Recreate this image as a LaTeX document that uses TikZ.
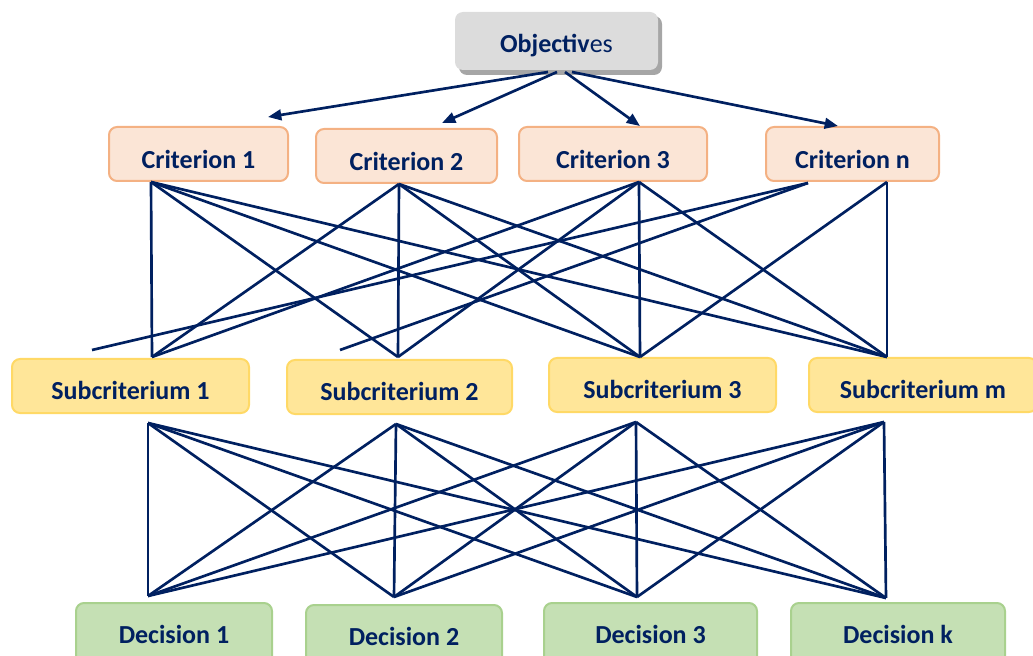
\documentclass[tikz,border=0pt]{standalone}
\usepackage{fontspec}
\setmainfont{Carlito}
\usetikzlibrary{arrows.meta}
\definecolor{navy}{HTML}{002060}
\definecolor{critfill}{HTML}{FBE5D6}
\definecolor{critdraw}{HTML}{F4B183}
\definecolor{subfill}{HTML}{FFE699}
\definecolor{subdraw}{HTML}{FFD966}
\definecolor{decfill}{HTML}{C5E0B4}
\definecolor{decdraw}{HTML}{A9D18E}
\definecolor{objfill}{HTML}{DCDCDC}
\definecolor{objshadow}{HTML}{A6A6A6}
\tikzset{
  box/.style={rounded corners=6pt, line width=1.5pt, inner sep=0pt,
    font=\fontsize{19.5pt}{22pt}\selectfont\bfseries, text=navy, text depth=0pt},
  critbox/.style={box, fill=critfill, draw=critdraw, minimum height=40.5pt, text height=22.4pt},
  subbox/.style={box, fill=subfill, draw=subdraw, minimum height=40.5pt, text height=20pt},
  decbox/.style={box, fill=decfill, draw=decdraw, minimum height=49.5pt, text height=11pt},
  objbox/.style={box, fill=objfill, draw=none, minimum height=43.5pt, text height=18pt},
  link/.style={draw=navy, line width=2pt},
  arr/.style={link, -{Triangle[length=10pt,width=8pt]}},
}
\begin{document}
\begin{tikzpicture}[x=0.75pt,y=-0.75pt]
\useasboundingbox (0,0) rectangle (1033,656);
\clip (0,0) rectangle (1033,656);
% Objectives
\fill[objshadow, rounded corners=6pt] (459,16) rectangle (662,75);
\node[objbox, minimum width=152.25pt] (obj) at (556.5,41) {Objectiv\mdseries es};
% Criteria
\node[critbox, minimum width=134.25pt] (c1) at (198.5,154) {Criterion 1};
\node[critbox, minimum width=135.75pt] (c2) at (406.5,156) {Criterion 2};
\node[critbox, minimum width=141pt] (c3) at (613,154) {Criterion 3};
\node[critbox, minimum width=129.75pt] (cn) at (852.5,154) {Criterion n};
% Subcriteria
\node[subbox, minimum width=177.75pt] (s1) at (130.5,386) {Subcriterium 1};
\node[subbox, minimum width=168.75pt] (s2) at (399.5,387) {Subcriterium 2};
\node[subbox, minimum width=170.25pt] (s3) at (662.5,385) {Subcriterium 3};
\node[subbox, minimum width=171pt] (sm) at (923,385) {Subcriterium m};
% Decisions
\node[decbox, minimum width=147pt] (d1) at (174,636) {Decision 1};
\node[decbox, minimum width=147pt] (d2) at (404,638) {Decision 2};
\node[decbox, minimum width=159.75pt] (d3) at (650.5,636) {Decision 3};
\node[decbox, minimum width=160.5pt] (dk) at (898,636) {Decision k};
% connector points
\coordinate (o1) at (548,72); \coordinate (o2) at (557,72);
\coordinate (o3) at (565,72); \coordinate (o4) at (572,72);
\coordinate (a1) at (268,117); \coordinate (a2) at (442,123);
\coordinate (a3) at (640,126); \coordinate (a4) at (838,126);
\coordinate (c1b) at (151,182); \coordinate (c2b) at (399,184);
\coordinate (c3b) at (639,182); \coordinate (cnb) at (887,182);
\coordinate (cnl) at (808,183);
\coordinate (s1t) at (152,357); \coordinate (s2t) at (398,357);
\coordinate (s3t) at (640,357); \coordinate (smt) at (887,357);
\coordinate (f1) at (92,350); \coordinate (f2) at (340,350);
\coordinate (s1b) at (148,423); \coordinate (s2b) at (396,424);
\coordinate (s3b) at (636,422); \coordinate (smb) at (884,422);
\coordinate (d1t) at (148,596); \coordinate (d2t) at (394,597);
\coordinate (d3t) at (637,597); \coordinate (dkt) at (886,598);
% arrows
\draw[arr] (o1) -- (a1);
\draw[arr] (o2) -- (a2);
\draw[arr] (o3) -- (a3);
\draw[arr] (o4) -- (a4);
% criteria to subcriteria
\foreach \c in {c1b,c2b,c3b}{
  \foreach \s in {s1t,s2t,s3t,smt}{ \draw[link] (\c) -- (\s); }
}
\draw[link] (cnb) -- (s3t);
\draw[link] (cnb) -- (smt);
\draw[link] (cnl) -- (f1);
\draw[link] (cnl) -- (f2);
% subcriteria to decisions
\foreach \s in {s1b,s2b,s3b,smb}{
  \foreach \d in {d1t,d2t,d3t,dkt}{ \draw[link] (\s) -- (\d); }
}
\end{tikzpicture}
\end{document}
